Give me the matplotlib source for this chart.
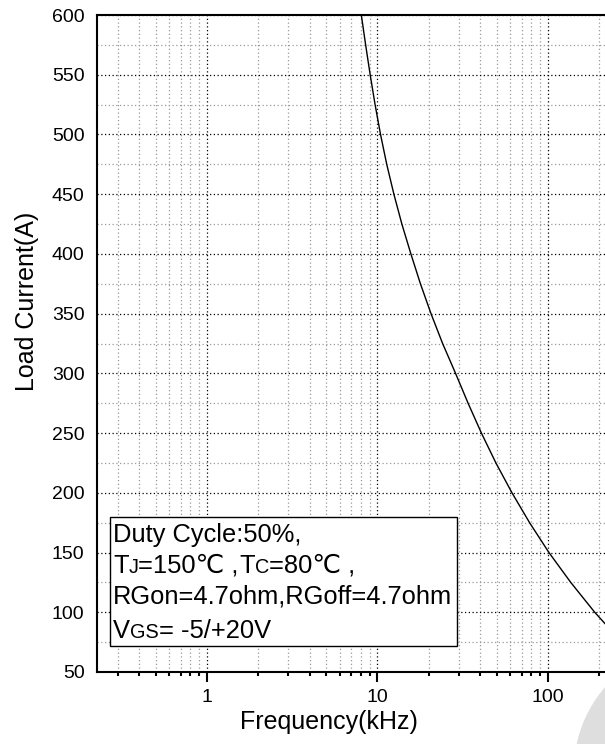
import matplotlib
matplotlib.use('Agg')
import matplotlib.pyplot as plt
from matplotlib.patches import Rectangle, Wedge
from matplotlib.transforms import IdentityTransform
from matplotlib.ticker import LogLocator, NullFormatter, FixedLocator

plt.rcParams['font.family'] = ['Liberation Sans', 'DejaVu Sans']

# curve
freq_khz = [8.04, 8.52, 9.06, 9.68, 10.42, 11.33, 12.48, 13.9, 15.7, 17.86, 20.6,
            24.1, 28.7, 34.0, 40.7, 49.5, 61.5, 78.0, 101.3, 136, 188, 216]
load_a = [600, 575, 550, 525, 500, 475, 450, 425, 400, 375, 350,
          325, 300, 275, 250, 225, 200, 175, 150, 125, 100, 90.5]

x_ticks = [1, 10, 100]
x_tick_labels = ['1', '10', '100']
y_ticks = list(range(50, 601, 50))

# (text, fontsize) pieces per line of the note box
BIG, SMALL = 18.4, 14.3
note_lines = [
    [('Duty Cycle:50%,', BIG)],
    [('T', BIG), ('J', SMALL), ('=150\u2103 ,', BIG), ('T', BIG), ('C', SMALL), ('=80\u2103 ,', BIG)],
    [('RGon=4.7ohm,RGoff=4.7ohm', BIG)],
    [('V', BIG), ('GS', SMALL), ('= -5/+20V', BIG)],
]

W, H = 605, 744
fig = plt.figure(figsize=(W / 100, H / 100), dpi=100)
ax = fig.add_axes([97 / W, 72 / H, 508 / W, 657 / H])

ax.plot(freq_khz, load_a, color='black', lw=1.0, zorder=3)

ax.set_xscale('log')
ax.set_xlim(0.2264, 216)
ax.set_ylim(50, 600)
ax.set_xticks(x_ticks)
ax.set_xticklabels(x_tick_labels)
ax.xaxis.set_minor_locator(LogLocator(base=10, subs=range(2, 10)))
ax.xaxis.set_minor_formatter(NullFormatter())
ax.set_yticks(y_ticks)
ax.yaxis.set_minor_locator(FixedLocator(range(75, 600, 50)))

ax.grid(which='major', color='black', linestyle=(0, (1, 2)), lw=0.9)
ax.grid(which='minor', color='#9a9a9a', linestyle=(0, (1, 2)), lw=0.9)

ax.tick_params(axis='x', which='major', direction='out', length=7.2, width=1.5,
               labelsize=14, pad=5)
ax.tick_params(axis='x', which='minor', direction='out', length=3, width=1.5)
ax.tick_params(axis='y', which='both', length=0, labelsize=14, pad=9)

for s in ['left', 'bottom', 'top']:
    ax.spines[s].set_linewidth(1.5)
ax.spines['right'].set_visible(False)

ax.set_xlabel('Frequency(kHz)', fontsize=18)
ax.set_ylabel('Load Current(A)', fontsize=18)
ax.xaxis.set_label_coords((328.5 - 97) / 508, -(710 - 672) / 657)
ax.yaxis.set_label_coords(-(97 - 39) / 508, (672 - 301) / 657)

# note box, pixel coordinates
ident = IdentityTransform()
fig.add_artist(Rectangle((110, H - 646), 347, 129, transform=ident,
                         facecolor='white', edgecolor='black', lw=1.0, zorder=4))
renderer = fig.canvas.get_renderer()
baselines = [541.7, 572.7, 603.3, 638.3]
for pieces, base in zip(note_lines, baselines):
    x = 113
    for txt, size in pieces:
        t = fig.text(x, H - base, txt, fontsize=size, va='baseline', ha='left',
                     transform=ident, zorder=5)
        x = t.get_window_extent(renderer).x1

# watermark arc at the bottom right corner
fig.add_artist(Wedge((700, -26), 126, 90, 200, width=28, transform=ident,
                     facecolor='#dedede', edgecolor='none', zorder=0))

fig.savefig('out.png', dpi=100)
